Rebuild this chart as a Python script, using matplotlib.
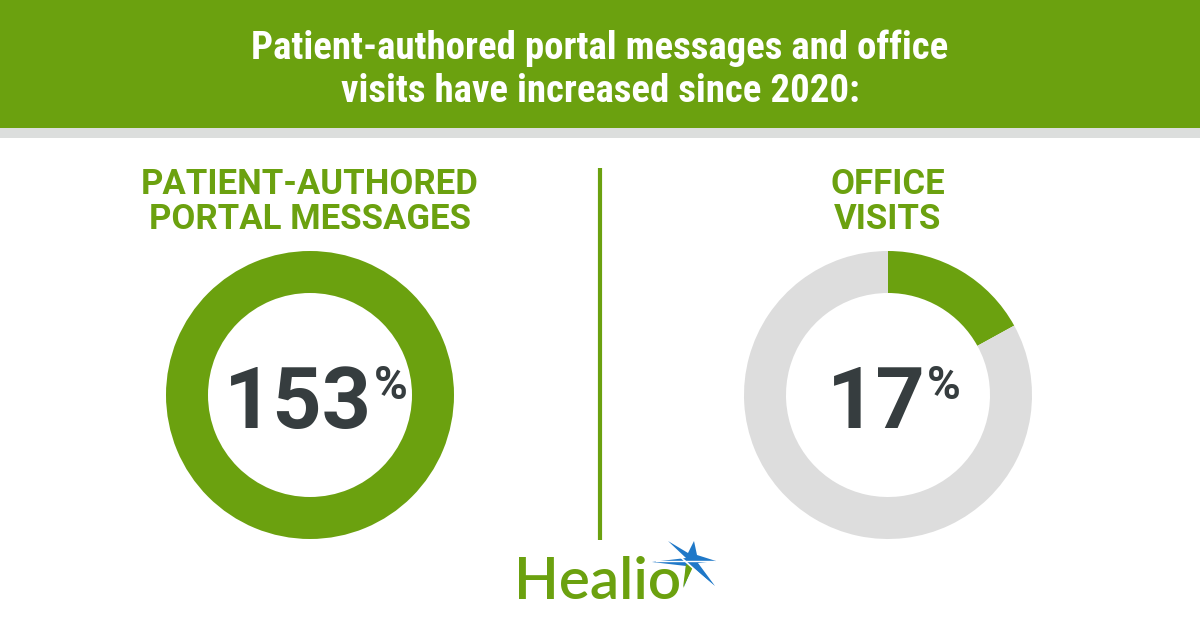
import matplotlib
matplotlib.use("Agg")
import matplotlib.pyplot as plt
from matplotlib.patches import Rectangle, Polygon

# data
labels = [["PATIENT-AUTHORED", "PORTAL MESSAGES"], ["OFFICE", "VISITS"]]
pct_increase = [153, 17]
title_lines = ["Patient-authored portal messages and office",
               "visits have increased since 2020:"]

GREEN = "#6BA10F"
GRAY = "#DDDDDD"
DARK = "#363D3F"
W, H = 1200, 630

fig = plt.figure(figsize=(12, 6.3), dpi=100)
fig.patch.set_facecolor("white")

# main canvas in pixel coordinates
ax = fig.add_axes([0, 0, 1, 1])
ax.set_xlim(0, W)
ax.set_ylim(H, 0)
ax.axis("off")

# header band
ax.add_patch(Rectangle((0, 0), W, 128, color=GREEN, lw=0))
ax.add_patch(Rectangle((0, 128), W, 10, color="#DCDEDD", lw=0))
ax.text(600, 59, title_lines[0], color="white", ha="center", va="baseline",
        fontsize=28, family="Roboto Condensed", weight="bold")
ax.text(600, 102, title_lines[1], color="white", ha="center", va="baseline",
        fontsize=28, family="Roboto Condensed", weight="bold")

# divider
ax.plot([600, 600], [168, 540], color=GREEN, lw=3, solid_capstyle="butt")

centers = [(310, 395), (888, 395)]
r_out, r_in = 144, 102

for i in range(2):
    cx, cy = centers[i]
    # subtitle
    ax.text(cx, 194, labels[i][0], color=GREEN, ha="center", va="baseline",
            fontsize=25, family="Roboto", weight="bold")
    ax.text(cx, 229, labels[i][1], color=GREEN, ha="center", va="baseline",
            fontsize=25, family="Roboto", weight="bold")

    # donut
    pax = fig.add_axes([(cx - r_out) / W, (H - cy - r_out) / H, 2 * r_out / W, 2 * r_out / H])
    shown = min(pct_increase[i], 100)
    pax.pie([shown, 100 - shown], colors=[GREEN, GRAY], startangle=90, counterclock=False,
            radius=1, wedgeprops=dict(width=(r_out - r_in) / r_out, linewidth=0))
    pax.set_xlim(-1, 1)
    pax.set_ylim(-1, 1)
    pax.axis("off")

    # value
    num = ax.text(cx - 12, 428, str(pct_increase[i]), color=DARK, ha="center", va="baseline",
                  fontsize=62, family="Roboto", weight="bold")
    ax.annotate("%", xy=(1, 1), xycoords=num, xytext=(1, 0), textcoords="offset points",
                ha="left", va="top", color=DARK, fontsize=33, family="Roboto", weight="bold")

# Healio logo
ax.text(514, 599, "Healio", color=GREEN, ha="left", va="baseline",
        fontsize=42, family="Lato", weight="semibold")
star = [(668, 541), (688, 553), (694, 541), (697, 555), (716, 561), (698, 563),
        (715, 586), (692, 567), (684, 587), (686, 566), (652, 562), (686, 558)]
ax.add_patch(Polygon(star, closed=True, color="#1F78C8", lw=0))
ax.add_patch(Polygon([(686, 564), (693, 567), (683, 588)], closed=True, color=GREEN, lw=0))
ax.plot([666, 714], [544, 587], color="white", lw=1.2)
ax.plot([656, 714], [561, 561], color="white", lw=1.0)

fig.savefig("out.png", dpi=100)
